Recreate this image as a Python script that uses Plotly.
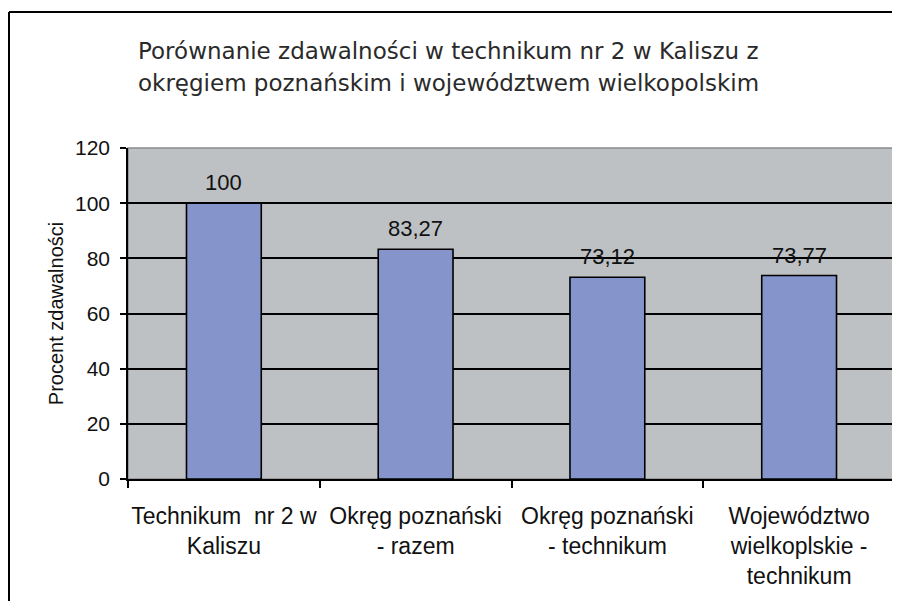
import plotly.graph_objects as go

categories = [
    "Technikum  nr 2 w<br>Kaliszu",
    "Okręg poznański<br>- razem",
    "Okręg poznański<br>- technikum",
    "Województwo<br>wielkoplskie -<br>technikum",
]
values = [100, 83.27, 73.12, 73.77]
value_labels = ["100", "83,27", "73,12", "73,77"]
y_ticks = [0, 20, 40, 60, 80, 100, 120]
title_lines = [
    "Porównanie zdawalności w technikum nr 2 w Kaliszu z",
    "okręgiem poznańskim i województwem wielkopolskim",
]
y_title = "Procent zdawalności"

FONT = "Liberation Sans, Arial, sans-serif"
OFF = 8  # default page body margin
W, H = 900 - OFF, 601 - OFF
L, R, T, B = 128 - OFF, 5, 148 - OFF, 122
pw, ph = W - L - R, H - T - B

def px_x(x):
    return (x - OFF - L) / pw

def px_y(y):
    return (H - B - (y - OFF)) / ph

fig = go.Figure()
fig.add_trace(go.Bar(
    x=categories, y=values,
    marker=dict(color="#8594CB", line=dict(color="#000000", width=1.6)),
    hoverinfo="skip",
))

annotations = []
for c, v, t in zip(categories, values, value_labels):
    annotations.append(dict(x=c, y=v, xref="x", yref="y", text=t, showarrow=False,
                            yanchor="bottom", yshift=6,
                            font=dict(family=FONT, size=22, color="#111111")))
for i, line in enumerate(title_lines):
    annotations.append(dict(x=px_x(136), y=px_y(51 + 32 * i), xref="paper", yref="paper",
                            text=line, showarrow=False, xanchor="left", yanchor="middle",
                            font=dict(family="DejaVu Sans, sans-serif", size=23, color="#2a2a2a")))

shapes = [
    dict(type="rect", xref="paper", yref="paper", x0=0, x1=1, y0=0, y1=1,
         line=dict(color="#8A8A8A", width=1.5), layer="below"),
    dict(type="line", xref="paper", yref="paper", x0=px_x(9), x1=px_x(9), y0=px_y(630), y1=px_y(12),
         line=dict(color="#000000", width=2)),
    dict(type="line", xref="paper", yref="paper", x0=px_x(9), x1=px_x(930), y0=px_y(12), y1=px_y(12),
         line=dict(color="#000000", width=2)),
]

fig.update_layout(
    width=W, height=H,
    margin=dict(l=L, r=R, t=T, b=B, autoexpand=False),
    paper_bgcolor="#FFFFFF", plot_bgcolor="#BDC1C4",
    bargap=0.61, showlegend=False,
    annotations=annotations, shapes=shapes,
    font=dict(family=FONT, size=21, color="#111111"),
)
fig.update_yaxes(
    range=[0, 120], tickvals=y_ticks, showgrid=True, gridcolor="#000000", gridwidth=1.5,
    zeroline=False, showline=True, linecolor="#000000", linewidth=1.5,
    ticks="outside", ticklen=6, tickcolor="#000000", tickwidth=1.5,
    ticklabelstandoff=6, tickfont=dict(family=FONT, size=21, color="#111111"),
    title=dict(text=y_title, font=dict(family=FONT, size=20, color="#111111"), standoff=6),
    automargin=False,
)
fig.update_xaxes(
    showgrid=False, showline=True, linecolor="#000000", linewidth=1.5,
    ticks="outside", tickson="boundaries", ticklen=7, tickcolor="#000000", tickwidth=1.5,
    tickfont=dict(family=FONT, size=23, color="#111111"), tickangle=0,
    ticklabelstandoff=16, automargin=False,
)

fig.write_html("out.html")
